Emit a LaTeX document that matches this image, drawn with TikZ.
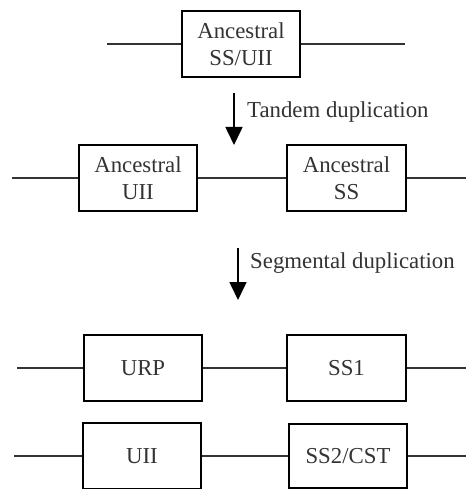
\documentclass[tikz,border=0pt]{standalone}
\usepackage{fontspec}
\setmainfont{Liberation Serif}
\usetikzlibrary{arrows.meta}
\begin{document}
\begin{tikzpicture}[x=1pt,y=-1pt,
  gene/.style={draw, line width=1.6pt, rectangle, inner sep=0pt, align=center,
    minimum width=118pt, minimum height=66pt,
    font=\fontsize{22.8}{27}\selectfont, text=black!80},
  chrom/.style={line width=1.6pt, draw=black!80},
  evarrow/.style={line width=1.6pt, -{Triangle[width=17pt,length=18pt]}},
  evlabel/.style={anchor=west, inner sep=0pt, font=\fontsize{22.8}{27}\selectfont, text=black!80}]
\useasboundingbox (0,0) rectangle (466,489);
% Row 1
\node[gene] (anc) at (241,44) {Ancestral\\SS/UII};
\coordinate (l1) at (107,44);
\coordinate (r1) at (405,44);
\draw[chrom] (l1) -- (anc.west);
\draw[chrom] (anc.east) -- (r1);
% Arrow 1
\coordinate (a1s) at (234,93);
\coordinate (a1e) at (234,145);
\draw[evarrow] (a1s) -- (a1e);
\node[evlabel] (t1) at (247,112) {Tandem duplication};
% Row 2
\node[gene] (auii) at (138,178) {Ancestral\\UII};
\node[gene, minimum width=119pt] (ass) at (346.5,178) {Ancestral\\SS};
\coordinate (l2) at (12,178);
\coordinate (r2) at (466,178);
\draw[chrom] (l2) -- (auii.west);
\draw[chrom] (auii.east) -- (ass.west);
\draw[chrom] (ass.east) -- (r2);
% Arrow 2
\coordinate (a2s) at (238,248);
\coordinate (a2e) at (238,300);
\draw[evarrow] (a2s) -- (a2e);
\node[evlabel] (t2) at (250,263) {Segmental duplication};
% Row 3
\node[gene] (urp) at (143,368) {URP};
\node[gene, minimum width=119pt] (ss1) at (346.5,368) {SS1};
\coordinate (l3) at (17,368);
\coordinate (r3) at (466,368);
\draw[chrom] (l3) -- (urp.west);
\draw[chrom] (urp.east) -- (ss1.west);
\draw[chrom] (ss1.east) -- (r3);
% Row 4
\node[gene] (uii) at (142,456) {UII};
\node[gene, minimum height=64pt] (ss2) at (348,456) {SS2/CST};
\coordinate (l4) at (14,456);
\coordinate (r4) at (466,456);
\draw[chrom] (l4) -- (uii.west);
\draw[chrom] (uii.east) -- (ss2.west);
\draw[chrom] (ss2.east) -- (r4);
\end{tikzpicture}
\end{document}
